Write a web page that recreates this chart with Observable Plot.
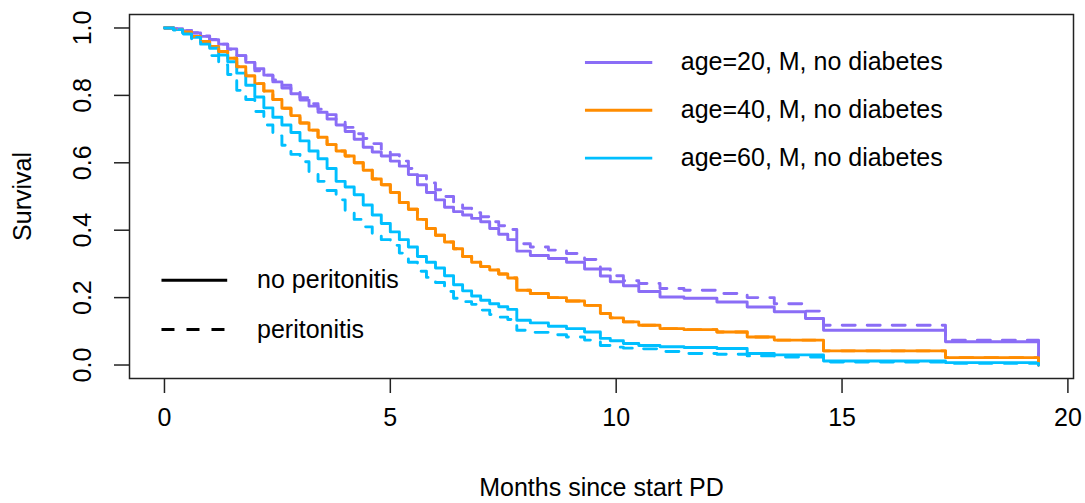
<!DOCTYPE html>
<html>
<head>
<meta charset="utf-8">
<script src="https://cdn.jsdelivr.net/npm/d3@7"></script>
<script src="https://cdn.jsdelivr.net/npm/@observablehq/plot@0.6"></script>
<style>
  html, body { margin: 0; padding: 0; background: #fff; }
  #chart svg { display: block; }
</style>
</head>
<body>
<div id="chart"></div>
<script>
// Event times (months since start of peritoneal dialysis) shared by all fitted curves
const months = [
  0, 0.2, 0.4, 0.6, 0.8, 1.0, 1.2, 1.4, 1.6, 1.8,
  2.0, 2.2, 2.4, 2.6, 2.8, 3.0, 3.2, 3.4, 3.6, 3.8,
  4.0, 4.2, 4.4, 4.6, 4.8, 5.0, 5.2, 5.4, 5.6, 5.8,
  6.0, 6.2, 6.4, 6.6, 6.8, 7.0, 7.2, 7.4, 7.6,
  7.8, 8.1, 8.5, 8.9, 9.3, 9.65, 9.87, 10.16, 10.5, 10.97,
  11.5, 12.23, 12.9, 13.5, 14.19, 14.59, 17.29, 19.35
];

// Predicted survival, no peritonitis
const survAge20 = [
  1.0, 0.998, 0.992, 0.985, 0.975, 0.965, 0.952, 0.938, 0.918, 0.898,
  0.879, 0.860, 0.840, 0.822, 0.805, 0.786, 0.768, 0.750, 0.730, 0.712,
  0.693, 0.670, 0.646, 0.632, 0.620, 0.605, 0.590, 0.565, 0.535, 0.512,
  0.490, 0.468, 0.455, 0.445, 0.435, 0.425, 0.405, 0.388, 0.372,
  0.338, 0.325, 0.316, 0.305, 0.285, 0.264, 0.247, 0.235, 0.218, 0.202,
  0.198, 0.187, 0.172, 0.158, 0.138, 0.103, 0.069, 0
];
const survAge40 = [
  1.0, 0.995, 0.988, 0.975, 0.960, 0.945, 0.930, 0.910, 0.885, 0.858,
  0.835, 0.813, 0.788, 0.762, 0.740, 0.718, 0.697, 0.676, 0.654, 0.635,
  0.620, 0.600, 0.578, 0.552, 0.535, 0.512, 0.482, 0.462, 0.432, 0.405,
  0.385, 0.365, 0.345, 0.322, 0.305, 0.292, 0.282, 0.270, 0.258,
  0.222, 0.212, 0.200, 0.190, 0.177, 0.153, 0.140, 0.128, 0.118, 0.108,
  0.105, 0.098, 0.083, 0.074, 0.074, 0.042, 0.022, 0
];
const survAge60 = [
  1.0, 0.995, 0.985, 0.972, 0.958, 0.940, 0.920, 0.900, 0.866, 0.830,
  0.795, 0.763, 0.735, 0.712, 0.690, 0.665, 0.635, 0.612, 0.583, 0.545,
  0.528, 0.505, 0.475, 0.445, 0.420, 0.395, 0.372, 0.350, 0.322, 0.305,
  0.288, 0.265, 0.238, 0.220, 0.205, 0.192, 0.182, 0.173, 0.165,
  0.133, 0.125, 0.115, 0.108, 0.098, 0.079, 0.072, 0.064, 0.058, 0.054,
  0.052, 0.049, 0.034, 0.030, 0.030, 0.012, 0.007, 0
];

// Predicted survival, peritonitis
const survAge20Perit = [
  1.0, 0.998, 0.993, 0.986, 0.976, 0.966, 0.952, 0.937, 0.918, 0.900,
  0.873, 0.860, 0.846, 0.830, 0.814, 0.793, 0.775, 0.759, 0.743, 0.727,
  0.705, 0.686, 0.672, 0.657, 0.641, 0.624, 0.605, 0.583, 0.562, 0.540,
  0.520, 0.500, 0.482, 0.465, 0.452, 0.440, 0.425, 0.413, 0.402,
  0.360, 0.350, 0.341, 0.331, 0.313, 0.285, 0.265, 0.250, 0.242, 0.227,
  0.222, 0.212, 0.200, 0.182, 0.160, 0.118, 0.074, 0
];
const survAge40Perit = [
  1.0, 0.995, 0.988, 0.975, 0.960, 0.945, 0.930, 0.910, 0.885, 0.858,
  0.835, 0.813, 0.788, 0.762, 0.740, 0.718, 0.697, 0.676, 0.654, 0.635,
  0.620, 0.600, 0.578, 0.552, 0.535, 0.512, 0.482, 0.462, 0.432, 0.405,
  0.385, 0.365, 0.345, 0.322, 0.305, 0.292, 0.282, 0.270, 0.258,
  0.222, 0.212, 0.200, 0.190, 0.177, 0.153, 0.140, 0.128, 0.118, 0.108,
  0.105, 0.098, 0.083, 0.074, 0.074, 0.042, 0.022, 0
];
const survAge60Perit = [
  1.0, 0.994, 0.982, 0.968, 0.952, 0.918, 0.890, 0.862, 0.815, 0.788,
  0.752, 0.712, 0.680, 0.652, 0.625, 0.603, 0.570, 0.545, 0.518, 0.490,
  0.455, 0.432, 0.410, 0.390, 0.372, 0.355, 0.332, 0.305, 0.278, 0.260,
  0.245, 0.218, 0.198, 0.188, 0.180, 0.163, 0.150, 0.142, 0.135,
  0.103, 0.097, 0.090, 0.083, 0.074, 0.058, 0.053, 0.050, 0.048, 0.040,
  0.034, 0.032, 0.027, 0.024, 0.024, 0.009, 0.005, 0
];

// Covariate profiles and their colours
const profileLabels = ["age=20, M, no diabetes", "age=40, M, no diabetes", "age=60, M, no diabetes"];
const profileColors = ["#8a6df6", "#ff8c00", "#00bfff"];
const peritonitisLabels = ["no peritonitis", "peritonitis"];

// Axis ticks
const xTicks = [0, 5, 10, 15, 20];
const yTicks = [0, 0.2, 0.4, 0.6, 0.8, 1.0];

// Long-format tables for the line marks
function toRows(values, profile) {
  return months.map((m, i) => ({month: m, surv: values[i], profile}));
}
const solidRows = [
  ...toRows(survAge20, profileLabels[0]),
  ...toRows(survAge40, profileLabels[1]),
  ...toRows(survAge60, profileLabels[2])
];
const dashedRows = [
  ...toRows(survAge20Perit, profileLabels[0]),
  ...toRows(survAge40Perit, profileLabels[1]),
  ...toRows(survAge60Perit, profileLabels[2])
];

// Legend placement in data units (like R's legend(x, y, ...))
const legendA = {x1: 9.32, x2: 10.81, xText: 11.43, yTop: 0.8976, step: 0.1418};
const legendB = {x1: -0.055, x2: 1.40, xText: 2.05, yTop: 0.2516, step: 0.1463};
const legendARows = profileLabels.map((label, i) => ({label, y: legendA.yTop - i * legendA.step}));
const legendBRows = peritonitisLabels.map((label, i) => ({label, y: legendB.yTop - i * legendB.step, dash: i === 1}));

const fontFamily = '"Liberation Sans", Arial, Helvetica, sans-serif';
const lineWidth = 2.9;
const dash = "13,12";
const fs = 25;
const axisInk = "#222";

const chart = Plot.plot({
  width: 1085,
  height: 503,
  marginLeft: 129,
  marginRight: 12,
  marginTop: 14,
  marginBottom: 125,
  style: {fontFamily, fontSize: fs + "px", color: "#000", background: "#fff", overflow: "visible"},
  x: {domain: [-0.774, 20.124]},
  y: {domain: [-0.04, 1.04]},
  color: {domain: profileLabels, range: profileColors},
  marks: [
    // x axis: ticks and labels
    Plot.axisX({ticks: xTicks, tickSize: 15, tickPadding: 15, tickFormat: d => String(d), label: null,
      fontSize: fs, stroke: axisInk, strokeWidth: 1.5, fill: "#000"}),
    // y axis: tick lines, then labels set parallel to the axis
    Plot.axisY({ticks: yTicks, tickSize: 15, text: null, label: null, stroke: axisInk, strokeWidth: 1.5}),
    Plot.axisY({ticks: yTicks, tickSize: 0, tickPadding: 47, tickFormat: d3.format(".1f"), label: null,
      rotate: -90, textAnchor: "middle", fontSize: fs, fill: "#000"}),
    Plot.line(solidRows, {x: "month", y: "surv", z: "profile", stroke: "profile",
      curve: "step-after", strokeWidth: lineWidth}),
    Plot.line(dashedRows, {x: "month", y: "surv", z: "profile", stroke: "profile",
      curve: "step-after", strokeWidth: lineWidth, strokeDasharray: dash}),
    // colour legend
    Plot.ruleY(legendARows, {y: "y", x1: legendA.x1, x2: legendA.x2, stroke: "label", strokeWidth: lineWidth}),
    Plot.text(legendARows, {y: "y", x: legendA.xText, text: "label", textAnchor: "start", fontSize: fs, fill: "#000"}),
    // line-type legend
    Plot.ruleY(legendBRows.filter(d => !d.dash), {y: "y", x1: legendB.x1, x2: legendB.x2, stroke: "#000", strokeWidth: lineWidth}),
    Plot.ruleY(legendBRows.filter(d => d.dash), {y: "y", x1: legendB.x1, x2: legendB.x2, stroke: "#000", strokeWidth: lineWidth, strokeDasharray: dash}),
    Plot.text(legendBRows, {y: "y", x: legendB.xText, text: "label", textAnchor: "start", fontSize: fs, fill: "#000"}),
    // axis titles
    Plot.text(["Months since start PD"], {text: d => d, frameAnchor: "bottom", textAnchor: "middle", dy: 117, fontSize: fs, fill: "#000"}),
    Plot.text(["Survival"], {text: d => d, frameAnchor: "left", textAnchor: "middle", dx: -107, rotate: -90, fontSize: fs, fill: "#000"}),
    Plot.frame({stroke: axisInk, strokeWidth: 1.5})
  ]
});

document.getElementById("chart").appendChild(chart);
</script>
</body>
</html>
